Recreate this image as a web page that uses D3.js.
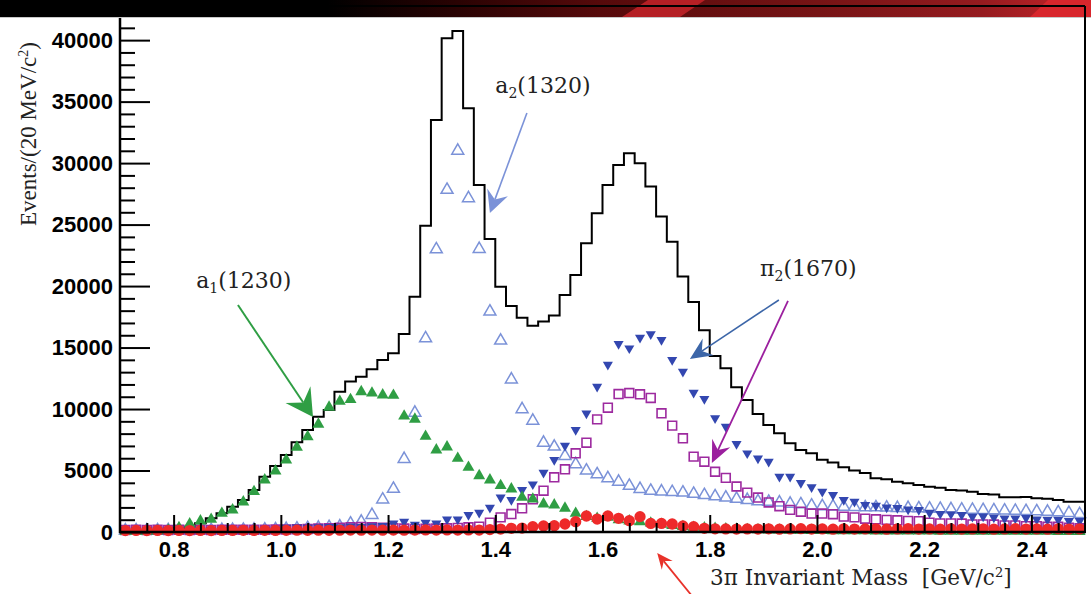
<!DOCTYPE html>
<html lang="en">
<head>
    <meta charset="utf-8">
    <title>3pi Invariant Mass</title>
    <script src="https://d3js.org/d3.v7.min.js"></script>
    <style>
        body { margin: 0; background: #fff; }
        svg { display: block; }
    </style>
</head>
<body>
    <div class="chart"></div>

    <script>
        let w = 1091;
        let h = 594;

        // bins: 20 MeV wide, from 0.70 to 2.50 GeV
        let binStart = 0.70;
        let binWidth = 0.02;

        // total (black histogram)
        let hist = [60, 80, 100, 140, 200, 300, 430, 710, 1110, 1520,
            2060, 2600, 3420, 4500, 5370, 6260, 7290, 8300, 9380, 9920,
            11410, 12230, 12630, 13230, 13990, 14530, 16100, 19140, 24910, 33510,
            40150, 40750, 34460, 28220, 23830, 19950, 18380, 17430, 16780, 17110,
            17600, 19280, 20900, 23480, 25920, 28220, 29850, 30800, 29990, 28090,
            25650, 23610, 20770, 18700, 16400, 14310, 13310, 11770, 10740, 9600,
            8700, 8030, 7210, 6670, 6400, 5880, 5650, 5270, 5000, 4800,
            4370, 4280, 4090, 3960, 3820, 3690, 3600, 3420, 3380, 3280,
            3090, 3050, 2820, 2820, 2850, 2740, 2700, 2600, 2470, 2470];

        // a1(1230) - green filled triangles
        let a1 = [40, 50, 60, 80, 150, 350, 650, 900, 1030, 1520,
            1790, 2440, 3280, 4230, 4960, 5860, 6890, 7750, 8760, 10150,
            10620, 10770, 11410, 11300, 11140, 11110, 9420, 9170, 7780, 6670,
            6910, 5990, 5260, 4580, 4230, 3770, 3500, 2820, 2680, 2280,
            2200, 1930, 1520, 1250, 1110, 1190, 1000, 900, 820, 720,
            620, 520, 440, 380, 330, 290, 260, 230, 200, 180,
            160, 150, 140, 130, 120, 110, 100, 100, 90, 90,
            80, 80, 80, 70, 70, 70, 60, 60, 60, 60,
            50, 50, 50, 50, 50, 50, 50, 40, 40, 40];

        // a2(1320) - light blue open triangles
        let a2 = [120, 130, 120, 130, 140, 130, 140, 150, 150, 160,
            170, 180, 190, 200, 220, 250, 280, 320, 350, 400,
            450, 680, 840, 1380, 2640, 3510, 5940, 9700, 15750, 22990,
            27820, 31010, 27140, 23020, 17920, 15560, 12400, 9980, 9050, 7260,
            6940, 6180, 5510, 4990, 4690, 4370, 4090, 3750, 3500, 3350,
            3300, 3250, 3200, 3100, 3000, 2900, 2800, 2700, 2600, 2500,
            2450, 2400, 2300, 2250, 2150, 2100, 2080, 2050, 2030, 2000,
            2000, 1980, 1950, 1950, 1920, 1900, 1880, 1850, 1820, 1800,
            1780, 1760, 1740, 1720, 1700, 1680, 1650, 1600, 1550, 1450];

        // pi2(1670) - blue filled down triangles
        let pi2A = [150, 160, 150, 160, 150, 170, 160, 150, 160, 170,
            160, 170, 180, 170, 190, 350, 380, 360, 400, 420,
            400, 450, 420, 480, 500, 700, 840, 600, 760, 700,
            1030, 1030, 1380, 1570, 1980, 2820, 2600, 3420, 3880, 4830,
            5860, 7020, 8300, 9650, 11820, 13600, 15290, 14940, 15810, 16080,
            15620, 13990, 13040, 11330, 10820, 9250, 8560, 7160, 6400, 5990,
            5720, 4500, 4500, 4000, 3650, 3280, 3010, 2600, 2470, 2200,
            2150, 2000, 1950, 1840, 1800, 1570, 1480, 1460, 1380, 1250,
            1270, 1190, 1110, 1110, 1150, 1030, 1000, 1000, 900, 900];

        // pi2(1670) - purple open squares
        let pi2B = [170, 180, 170, 180, 170, 180, 170, 180, 170, 180,
            180, 190, 180, 190, 200, 200, 220, 250, 280, 300,
            350, 380, 400, 380, 350, 300, 280, 250, 260, 280,
            300, 330, 380, 430, 760, 1190, 1460, 1930, 2660, 3360,
            4450, 5100, 6400, 7260, 9160, 10110, 11220, 11300, 11200, 10900,
            9650, 8650, 7620, 6130, 5720, 4900, 4400, 3700, 3200, 2800,
            2400, 2100, 1800, 1650, 1500, 1500, 1450, 1250, 1190, 1080,
            1030, 980, 950, 900, 880, 760, 700, 700, 690, 620,
            620, 610, 540, 540, 480, 480, 420, 420, 350, 300];

        // red filled circles
        let bkg = [120, 130, 120, 130, 120, 130, 120, 130, 120, 130,
            130, 140, 130, 140, 130, 140, 150, 140, 150, 140,
            150, 160, 150, 160, 150, 160, 150, 160, 170, 160,
            170, 160, 170, 160, 200, 240, 300, 320, 430, 490,
            510, 650, 840, 1300, 1050, 1300, 1110, 920, 1250, 700,
            700, 650, 490, 430, 300, 260, 250, 240, 250, 240,
            260, 230, 250, 270, 240, 250, 230, 260, 240, 250,
            260, 230, 250, 270, 240, 250, 230, 260, 240, 250,
            260, 230, 250, 270, 240, 250, 230, 260, 240, 250];

        let xTicks = [0.8, 1.0, 1.2, 1.4, 1.6, 1.8, 2.0, 2.2, 2.4];
        let yTicks = [0, 5000, 10000, 15000, 20000, 25000, 30000, 35000, 40000];

        let x = d3.scaleLinear().domain([0.7, 2.5]).range([120, 1085]);
        let y = d3.scaleLinear().domain([0, 41800]).range([532, 18]);

        let svg = d3.select('.chart').append('svg')
            .attr('width', w)
            .attr('height', h)
            .style('background', '#fff');

        // top banner
        let grad = svg.append('defs').append('linearGradient')
            .attr('id', 'banner')
            .attr('x1', '0').attr('x2', '1').attr('y1', '0').attr('y2', '0');
        [[0, '#000'], [0.30, '#000'], [0.42, '#2a0303'], [0.55, '#560a0b'],
         [0.75, '#761415'], [0.90, '#951b1f'], [1, '#c8242a']].forEach(function (s) {
            grad.append('stop').attr('offset', s[0]).attr('stop-color', s[1]);
        });
        svg.append('rect')
            .attr('x', 0).attr('y', 0).attr('width', w).attr('height', 17)
            .attr('fill', 'url(#banner)');
        svg.append('polygon')
            .attr('points', '622,17 648,0 705,0 680,17')
            .attr('fill', '#c42329').attr('opacity', 0.85);
        svg.append('polygon')
            .attr('points', '1030,17 1048,0 1091,0 1091,17')
            .attr('fill', '#d8262c');
        svg.append('line')
            .attr('x1', 0).attr('x2', w).attr('y1', 17.5).attr('y2', 17.5)
            .attr('stroke', '#c8c8c8').attr('stroke-width', 1);
        svg.append('line')
            .attr('x1', 120).attr('x2', 1085).attr('y1', 6).attr('y2', 6)
            .attr('stroke', '#000').attr('stroke-width', 2);

        // histogram
        let steps = hist.map(function (d, i) { return [binStart + i * binWidth, d]; });
        steps.push([binStart + hist.length * binWidth, hist[hist.length - 1]]);
        svg.append('path')
            .datum(steps)
            .attr('fill', 'none')
            .attr('stroke', '#000')
            .attr('stroke-width', 2)
            .attr('d', d3.line()
                .x(function (d) { return x(d[0]); })
                .y(function (d) { return y(d[1]); })
                .curve(d3.curveStepAfter));

        // markers
        let centre = function (i) { return binStart + (i + 0.5) * binWidth; };
        let drawSeries = function (data, type, size, fill, stroke, sw, rot) {
            svg.append('g').selectAll('path')
                .data(data)
                .enter()
                .append('path')
                    .attr('d', d3.symbol().type(type).size(size))
                    .attr('transform', function (d, i) {
                        return 'translate(' + x(centre(i)) + ',' + y(d) + ')' + (rot ? ' rotate(180)' : '');
                    })
                    .attr('fill', fill)
                    .attr('stroke', stroke)
                    .attr('stroke-width', sw);
        };
        drawSeries(a2, d3.symbolTriangle, 62, 'none', '#7b92d8', 1.5, false);
        drawSeries(pi2B, d3.symbolSquare, 78, 'none', '#9d2a9f', 1.6, false);
        drawSeries(pi2A, d3.symbolTriangle, 44, '#3347b0', 'none', 0, true);
        drawSeries(a1, d3.symbolTriangle, 62, '#2f9e44', 'none', 0, false);
        drawSeries(bkg, d3.symbolCircle, 100, '#ee2a2a', 'none', 0, false);

        // axes
        let tickFont = function (g) {
            g.select('.domain').remove();
            g.selectAll('text')
                .attr('fill', '#000')
                .style('font-family', '"Liberation Sans", Arial, sans-serif')
                .style('font-weight', 'bold')
                .style('font-size', '22px');
            g.selectAll('line').attr('stroke', '#000').attr('stroke-width', 2);
        };

        let yMinor = d3.range(0, 41001, 1000).filter(function (d) { return d % 5000 !== 0; });
        svg.append('g')
            .attr('transform', 'translate(120,0)')
            .call(d3.axisLeft(y).tickValues(yMinor).tickSize(-15).tickFormat(''))
            .call(tickFont);
        svg.append('g')
            .attr('transform', 'translate(120,0)')
            .call(d3.axisLeft(y).tickValues(yTicks).tickSize(-30).tickPadding(7).tickFormat(d3.format('d')))
            .call(tickFont);

        let xMinor = d3.range(0.75, 2.5, 0.05).filter(function (d) {
            return Math.abs(d * 5 - Math.round(d * 5)) > 1e-6;
        });
        svg.append('g')
            .attr('transform', 'translate(0,532)')
            .call(d3.axisBottom(x).tickValues(xMinor).tickSize(-9).tickFormat(''))
            .call(tickFont);
        svg.append('g')
            .attr('transform', 'translate(0,532)')
            .call(d3.axisBottom(x).tickValues(xTicks).tickSize(-17).tickPadding(9).tickFormat(d3.format('.1f')))
            .call(tickFont);

        // frame lines
        svg.append('line')
            .attr('x1', 120).attr('x2', 120).attr('y1', 18).attr('y2', 533)
            .attr('stroke', '#000').attr('stroke-width', 2.5);
        svg.append('line')
            .attr('x1', 119).attr('x2', 1086).attr('y1', 532).attr('y2', 532)
            .attr('stroke', '#000').attr('stroke-width', 2.5);
        svg.append('line')
            .attr('x1', 1085).attr('x2', 1085).attr('y1', 6).attr('y2', 532)
            .attr('stroke', '#000').attr('stroke-width', 2);

        // axis titles
        let ylab = svg.append('text')
            .attr('transform', 'translate(36,226) rotate(-90)')
            .style('font-family', '"Liberation Serif", "Times New Roman", serif')
            .style('font-size', '23px')
            .attr('fill', '#222');
        ylab.append('tspan').text('Events/(20 MeV/c');
        ylab.append('tspan').attr('dy', -8).style('font-size', '14px').text('2');
        ylab.append('tspan').attr('dy', 8).text(')');

        let xlab = svg.append('text')
            .attr('x', 710).attr('y', 585)
            .style('font-family', '"DejaVu Serif", serif')
            .style('font-size', '21.5px')
            .style('white-space', 'pre')
            .attr('fill', '#222');
        xlab.append('tspan').text('3\u03c0 Invariant Mass  [GeV/c');
        xlab.append('tspan').attr('dy', -8).style('font-size', '13px').text('2');
        xlab.append('tspan').attr('dy', 8).text(']');

        // annotations (positions in data units)
        let labels = [
            { m: 1.400, v: 35700, base: 'a', sub: '2', rest: '(1320)' },
            { m: 0.842, v: 19840, base: 'a', sub: '1', rest: '(1230)' },
            { m: 1.894, v: 20820, base: '\u03c0', sub: '2', rest: '(1670)' }
        ];
        labels.forEach(function (l) {
            let t = svg.append('text')
                .attr('x', x(l.m)).attr('y', y(l.v))
                .style('font-family', '"DejaVu Serif", serif')
                .style('font-size', '22px')
                .attr('fill', '#222');
            t.append('tspan').text(l.base);
            t.append('tspan').attr('dy', 5).style('font-size', '14px').text(l.sub);
            t.append('tspan').attr('dy', -5).text(l.rest);
        });

        let arrows = [
            { m0: 0.920, v0: 18460, m1: 1.060, v1: 9350, color: '#2f9e44', len: 27, hw: 15, sw: 2 },
            { m0: 1.459, v0: 34070, m1: 1.390, v1: 25940, color: '#7b92d8', len: 22, hw: 11, sw: 1.6 },
            { m0: 1.929, v0: 18870, m1: 1.763, v1: 14070, color: '#3c66a8', len: 22, hw: 10, sw: 1.6 },
            { m0: 1.946, v0: 18790, m1: 1.804, v1: 5610, color: '#9b1f9e', len: 22, hw: 10, sw: 1.8 },
            { m0: 1.773, v0: -5530, m1: 1.702, v1: -1710, color: '#e8322a', len: 16, hw: 7, sw: 1.8 }
        ];
        arrows.forEach(function (a) {
            let x0 = x(a.m0), y0 = y(a.v0), x1 = x(a.m1), y1 = y(a.v1);
            let L = Math.hypot(x1 - x0, y1 - y0);
            let ux = (x1 - x0) / L, uy = (y1 - y0) / L;
            let px = -uy, py = ux;
            let nx = x1 - ux * a.len * 0.65, ny = y1 - uy * a.len * 0.65;
            svg.append('line')
                .attr('x1', x0).attr('y1', y0).attr('x2', nx).attr('y2', ny)
                .attr('stroke', a.color).attr('stroke-width', a.sw);
            let bx = x1 - ux * a.len, by = y1 - uy * a.len;
            svg.append('path')
                .attr('d', 'M' + x1 + ',' + y1 +
                    'L' + (bx + px * a.hw) + ',' + (by + py * a.hw) +
                    'L' + nx + ',' + ny +
                    'L' + (bx - px * a.hw) + ',' + (by - py * a.hw) + 'Z')
                .attr('fill', a.color);
        });
    </script>
</body>
</html>
